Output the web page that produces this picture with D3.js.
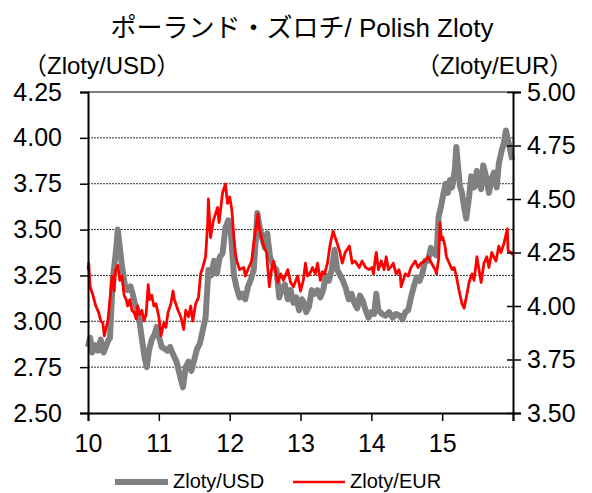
<!DOCTYPE html>
<html>
<head>
<meta charset="utf-8">
<script src="https://cdn.jsdelivr.net/npm/d3@7"></script>
<style>
  body { margin: 0; background: #fff; }
  svg text { font-family: "Liberation Sans", Arial, "Noto Sans CJK JP", sans-serif; fill: #000; }
</style>
</head>
<body>
<svg id="chart" width="592" height="493"></svg>
<script>
// Zloty per USD, [year (yy), value]
const usdSeries = [
  [10.00,2.86],[10.03,2.91],[10.06,2.83],[10.10,2.87],[10.14,2.84],[10.18,2.90],[10.22,2.83],[10.26,2.87],
  [10.29,2.90],[10.31,2.91],[10.35,3.23],[10.38,3.33],[10.40,3.40],[10.42,3.50],[10.45,3.40],[10.48,3.30],
  [10.52,3.20],[10.56,3.17],[10.60,3.19],[10.63,3.15],[10.66,3.10],[10.70,3.05],[10.73,2.99],[10.77,2.88],
  [10.80,2.80],[10.83,2.75],[10.86,2.84],[10.90,2.90],[10.94,2.93],[10.97,2.97],[11.00,2.92],[11.04,2.86],
  [11.08,2.85],[11.12,2.84],[11.16,2.86],[11.20,2.82],[11.25,2.78],[11.30,2.70],[11.34,2.64],[11.38,2.75],
  [11.42,2.78],[11.46,2.73],[11.50,2.79],[11.54,2.85],[11.58,2.88],[11.62,2.95],[11.66,3.02],[11.70,3.28],
  [11.74,3.25],[11.78,3.33],[11.82,3.26],[11.86,3.35],[11.90,3.37],[11.94,3.51],[11.98,3.55],
  [12.02,3.47],[12.06,3.25],[12.10,3.18],[12.14,3.13],[12.18,3.15],[12.22,3.12],[12.26,3.19],[12.30,3.23],
  [12.34,3.28],[12.37,3.45],[12.39,3.59],[12.42,3.52],[12.46,3.45],[12.50,3.40],[12.53,3.48],[12.57,3.35],
  [12.62,3.30],[12.66,3.28],[12.70,3.13],[12.74,3.18],[12.78,3.20],[12.82,3.12],[12.86,3.17],[12.90,3.10],
  [12.94,3.13],[12.98,3.06],
  [13.02,3.12],[13.05,3.10],[13.08,3.05],[13.12,3.08],[13.16,3.17],[13.20,3.15],[13.24,3.17],[13.28,3.13],
  [13.32,3.17],[13.36,3.25],[13.40,3.22],[13.44,3.28],[13.48,3.39],[13.52,3.28],[13.56,3.25],[13.60,3.22],
  [13.64,3.18],[13.68,3.12],[13.72,3.15],[13.76,3.10],[13.80,3.07],[13.84,3.14],[13.88,3.11],[13.92,3.06],
  [13.96,3.02],
  [14.00,3.05],[14.04,3.04],[14.07,3.15],[14.10,3.06],[14.15,3.04],[14.20,3.03],[14.25,3.05],[14.30,3.02],
  [14.35,3.04],[14.40,3.03],[14.44,3.01],[14.48,3.05],[14.52,3.06],[14.56,3.13],[14.60,3.19],[14.64,3.24],
  [14.68,3.22],[14.72,3.26],[14.76,3.33],[14.80,3.33],[14.84,3.40],[14.88,3.37],[14.92,3.36],[14.95,3.57],
  [14.98,3.62],
  [15.02,3.70],[15.05,3.75],[15.08,3.70],[15.11,3.77],[15.14,3.73],[15.18,3.83],[15.20,3.95],[15.22,3.86],
  [15.25,3.74],[15.28,3.70],[15.31,3.62],[15.34,3.56],[15.38,3.68],[15.41,3.79],[15.45,3.73],[15.49,3.82],
  [15.52,3.75],[15.55,3.72],[15.58,3.85],[15.62,3.79],[15.66,3.70],[15.70,3.78],[15.73,3.81],[15.77,3.73],
  [15.80,3.86],[15.84,3.93],[15.87,3.97],[15.90,4.04],[15.94,3.97],[15.99,3.88]
];

// Zloty per EUR, [year (yy), value]
const eurSeries = [
  [10.00,4.17],[10.01,4.20],[10.03,4.09],[10.07,4.05],[10.11,4.00],[10.15,3.97],[10.18,3.93],[10.21,3.92],
  [10.23,3.86],[10.25,3.89],[10.28,3.93],[10.31,4.03],[10.34,4.14],[10.37,4.07],[10.39,4.17],[10.42,4.19],
  [10.45,4.12],[10.48,4.14],[10.51,4.05],[10.54,4.03],[10.56,4.00],[10.59,4.03],[10.62,3.98],[10.65,3.97],
  [10.68,3.94],[10.70,4.00],[10.73,3.96],[10.76,3.98],[10.79,3.93],[10.82,3.96],[10.85,4.10],[10.87,4.03],
  [10.90,4.05],[10.93,4.00],[10.96,4.01],[11.00,3.95],[11.03,3.86],[11.07,3.92],[11.10,3.90],[11.13,3.97],
  [11.17,4.01],[11.20,4.07],[11.22,4.03],[11.27,3.98],[11.31,3.95],[11.35,3.89],[11.38,3.98],[11.42,3.95],
  [11.45,4.00],[11.48,3.93],[11.52,4.01],[11.56,4.04],[11.59,4.15],[11.62,4.18],[11.66,4.23],[11.69,4.39],
  [11.70,4.50],[11.73,4.32],[11.77,4.40],[11.83,4.46],[11.85,4.39],[11.90,4.53],[11.94,4.57],[11.97,4.48],
  [12.00,4.51],[12.03,4.45],[12.06,4.32],[12.08,4.25],[12.10,4.21],[12.14,4.17],[12.20,4.18],[12.22,4.14],
  [12.27,4.18],[12.31,4.21],[12.35,4.32],[12.40,4.43],[12.42,4.36],[12.48,4.28],[12.52,4.25],[12.56,4.09],
  [12.59,4.17],[12.62,4.21],[12.68,4.11],[12.72,4.15],[12.76,4.12],[12.82,4.17],[12.86,4.11],[12.90,4.09],
  [12.96,4.14],[13.00,4.07],[13.04,4.12],[13.07,4.20],[13.10,4.14],[13.13,4.15],[13.17,4.18],[13.21,4.15],
  [13.24,4.20],[13.28,4.12],[13.31,4.16],[13.34,4.15],[13.38,4.20],[13.42,4.29],[13.46,4.35],[13.49,4.32],
  [13.55,4.26],[13.59,4.20],[13.63,4.25],[13.69,4.28],[13.73,4.20],[13.77,4.21],[13.83,4.18],[13.87,4.21],
  [13.92,4.18],[13.97,4.17],[14.01,4.18],[14.03,4.15],[14.06,4.23],[14.07,4.25],[14.10,4.17],[14.14,4.21],
  [14.18,4.17],[14.21,4.23],[14.24,4.17],[14.27,4.18],[14.31,4.20],[14.35,4.15],[14.39,4.17],[14.41,4.14],
  [14.42,4.09],[14.46,4.13],[14.48,4.15],[14.52,4.14],[14.56,4.18],[14.62,4.21],[14.66,4.18],[14.70,4.20],
  [14.76,4.21],[14.80,4.23],[14.85,4.20],[14.90,4.17],[14.92,4.15],[14.95,4.22],[14.97,4.39],[14.99,4.31],
  [15.01,4.32],[15.04,4.28],[15.06,4.23],[15.10,4.20],[15.14,4.17],[15.17,4.18],[15.20,4.14],[15.24,4.07],
  [15.28,4.01],[15.31,3.99],[15.34,4.04],[15.38,4.11],[15.42,4.15],[15.45,4.12],[15.48,4.20],[15.49,4.23],
  [15.55,4.11],[15.59,4.20],[15.63,4.23],[15.66,4.18],[15.70,4.25],[15.76,4.21],[15.80,4.28],[15.83,4.25],
  [15.87,4.29],[15.92,4.36],[15.93,4.26],[15.97,4.25],[16.00,4.24]
];

const xTicks = [10, 11, 12, 13, 14, 15, 16];
const xTickLabels = ["10", "11", "12", "13", "14", "15", ""];
const leftTicks = [2.5, 2.75, 3.0, 3.25, 3.5, 3.75, 4.0, 4.25];
const rightTicks = [3.5, 3.75, 4.0, 4.25, 4.5, 4.75, 5.0];

const plotLeft = 88, plotRight = 513, plotTop = 92, plotBottom = 413;

const xScale = d3.scaleLinear().domain([10, 16]).range([plotLeft, plotRight]);
const yLeft = d3.scaleLinear().domain([2.5, 4.25]).range([plotBottom, plotTop]);
const yRight = d3.scaleLinear().domain([3.5, 5.0]).range([plotBottom, plotTop]);

const chart = d3.select("#chart");

// title
chart.append("text")
  .attr("x", 302).attr("y", 37)
  .attr("text-anchor", "middle")
  .style("font-size", "26px")
  .text("ポーランド・ズロチ/ Polish Zloty");

chart.append("text")
  .attr("x", 23).attr("y", 74)
  .style("font-size", "24px")
  .text("（Zloty/USD）");

chart.append("text")
  .attr("x", 416).attr("y", 74)
  .style("font-size", "24px")
  .text("（Zloty/EUR）");

// grid lines (dotted)
chart.append("g")
  .selectAll("line")
  .data(leftTicks.filter((d) => d > 2.5 && d < 4.25))
  .enter()
  .append("line")
  .attr("x1", plotLeft).attr("x2", plotRight)
  .attr("y1", (d) => yLeft(d)).attr("y2", (d) => yLeft(d))
  .attr("stroke", "#333")
  .attr("stroke-width", 1)
  .attr("stroke-dasharray", "2,1");

// top border
chart.append("line")
  .attr("x1", plotLeft).attr("x2", plotRight)
  .attr("y1", plotTop).attr("y2", plotTop)
  .attr("stroke", "#808080")
  .attr("stroke-width", 2);

// series
const lineUsd = d3.line().x((d) => xScale(d[0])).y((d) => yLeft(d[1]));
const lineEur = d3.line().x((d) => xScale(d[0])).y((d) => yRight(d[1]));

chart.append("path")
  .datum(usdSeries)
  .attr("d", lineUsd)
  .attr("fill", "none")
  .attr("stroke", "#808080")
  .attr("stroke-width", 6)
  .attr("stroke-linejoin", "round");

chart.append("path")
  .datum(eurSeries)
  .attr("d", lineEur)
  .attr("fill", "none")
  .attr("stroke", "#ff0000")
  .attr("stroke-width", 2.8)
  .attr("stroke-linejoin", "round");

// axes
const xAxis = chart.append("g")
  .attr("transform", `translate(0, ${plotBottom})`)
  .call(d3.axisBottom(xScale).tickValues(xTicks).tickSize(8).tickPadding(13)
    .tickFormat((d, i) => xTickLabels[i]));

const yAxisL = chart.append("g")
  .attr("transform", `translate(${plotLeft}, 0)`)
  .call(d3.axisLeft(yLeft).tickValues(leftTicks).tickSize(8).tickPadding(18)
    .tickFormat(d3.format(".2f")));

const yAxisR = chart.append("g")
  .attr("transform", `translate(${plotRight}, 0)`)
  .call(d3.axisRight(yRight).tickValues(rightTicks).tickSize(8).tickPadding(6)
    .tickFormat(d3.format(".2f")));

yAxisR.selectAll(".tick line").attr("x1", -6);

[xAxis, yAxisL, yAxisR].forEach((ax) => {
  ax.select(".domain").attr("stroke", "#000").attr("stroke-width", 2);
  ax.selectAll(".tick line").attr("stroke", "#000").attr("stroke-width", 1.5);
  ax.selectAll("text")
    .style("font-family", '"Liberation Sans", Arial, sans-serif')
    .style("font-size", "25px")
    .attr("fill", "#000");
});

// legend
const legend = chart.append("g");
legend.append("line")
  .attr("x1", 115).attr("x2", 168).attr("y1", 482).attr("y2", 482)
  .attr("stroke", "#808080").attr("stroke-width", 6);
legend.append("text")
  .attr("x", 173).attr("y", 488)
  .style("font-size", "20px")
  .text("Zloty/USD");
legend.append("line")
  .attr("x1", 293).attr("x2", 345).attr("y1", 482).attr("y2", 482)
  .attr("stroke", "#ff0000").attr("stroke-width", 2.5);
legend.append("text")
  .attr("x", 350).attr("y", 488)
  .style("font-size", "20px")
  .text("Zloty/EUR");
</script>
</body>
</html>
